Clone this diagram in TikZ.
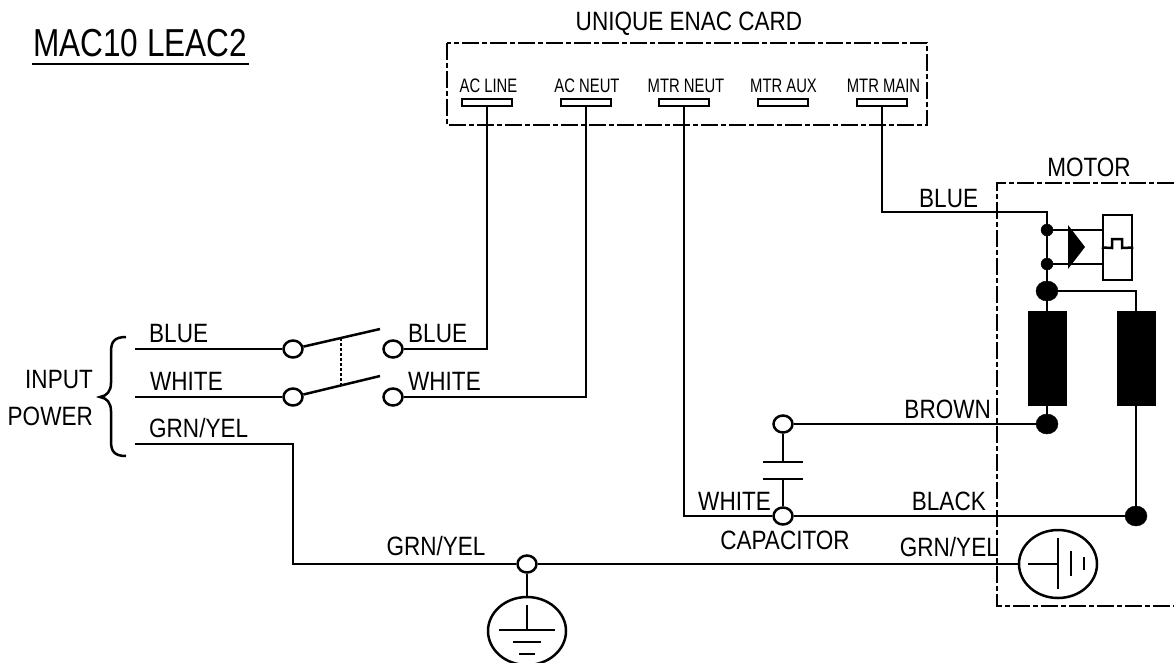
\documentclass[tikz,border=0pt]{standalone}
\usepackage{fontspec}
\usetikzlibrary{shapes.geometric}
\setmainfont[FakeStretch=0.85]{Liberation Sans}
\newfontfamily\pinfont[FakeStretch=0.76]{Liberation Sans}
\newfontfamily\titlefont[FakeStretch=0.81]{Liberation Sans}
\begin{document}
\begin{tikzpicture}[x=1pt,y=-1pt]

      \tikzset{wire/.style={line width=2.5pt},
      	term/.style={draw, line width=2.5pt, ellipse, inner sep=0pt, minimum width=19pt, minimum height=17pt, fill=white},
      	blob/.style={draw, ellipse, inner sep=0pt, fill=black},
      	dot/.style={blob, minimum width=12pt, minimum height=12pt},
      	bigdot/.style={blob, minimum width=22pt, minimum height=20pt},
      	tab/.style={draw, line width=2.5pt, inner sep=0pt, minimum width=50pt, minimum height=7pt},
      	coil/.style={draw, fill=black, inner sep=0pt, minimum width=38pt, minimum height=94pt},
      	gnd/.style={draw, line width=2.5pt, ellipse, inner sep=0pt, minimum width=78pt, minimum height=68pt},
      	card/.style={line width=2.5pt, dash pattern=on 17pt off 3pt on 5pt off 3pt},
      	lbl/.style={inner sep=0pt, font=\fontsize{26.5}{26.5}\selectfont},
      	pin/.style={inner sep=0pt, font=\pinfont\fontsize{19.5}{19.5}\selectfont}}
      \useasboundingbox (0,0) rectangle (1174,662);
%% Title and boxes
      	\node[anchor=base west, inner sep=0pt, font=\titlefont\fontsize{39}{39}\selectfont] (title) at (33,56) {MAC10 LEAC2};
      	\draw[wire] (32,64) -- (249,64);
      	\draw[card] (447,43) rectangle (927,125);
      	\draw[card] (1174,183) -- (997,183) -- (997,606) -- (1174,606);
      	\node[lbl, anchor=base] (cardname) at (689,30) {UNIQUE ENAC CARD};
      	\node[lbl, anchor=base] (motorname) at (1089,176) {MOTOR};
%% Card terminals
      	\node[tab] (acline) at (487,102.5) {};
      	\node[tab] (acneut) at (586,102.5) {};
      	\node[tab] (mtrneut) at (684,102.5) {};
      	\node[tab] (mtraux) at (783,102.5) {};
      	\node[tab] (mtrmain) at (882,102.5) {};
      	\node[pin, anchor=base] (tacline) at (488.5,92) {AC LINE};
      	\node[pin, anchor=base] (tacneut) at (587,92) {AC NEUT};
      	\node[pin, anchor=base] (tmtrneut) at (686,92) {MTR NEUT};
      	\node[pin, anchor=base] (tmtraux) at (783.5,92) {MTR AUX};
      	\node[pin, anchor=base] (tmtrmain) at (883.5,92) {MTR MAIN};
%% Input side
      	\coordinate (inblue) at (135,349);
      	\coordinate (inwhite) at (135,397);
      	\coordinate (ingrn) at (135,444);
      	\node[term] (sw1) at (293,349) {};
      	\node[term] (sw2) at (293,397) {};
      	\node[term] (sw3) at (393,349) {};
      	\node[term] (sw4) at (393,397) {};
      	\coordinate (blade1) at (380,329);
      	\coordinate (blade2) at (380,376);
      	\coordinate (link1) at (341,338);
      	\coordinate (link2) at (341,385);
      	\draw[wire] (126,337) .. controls (114,337) and (111,342) .. (111,352) -- (111,383) .. controls (111,391) and (107,396) .. (100,397) .. controls (107,398) and (111,403) .. (111,411) -- (111,441) .. controls (111,451) and (114,456) .. (126,456);
      	\node[lbl, anchor=base east] (inputa) at (93,388) {INPUT};
      	\node[lbl, anchor=base east] (inputb) at (93,425) {POWER};
      	\node[lbl, anchor=base west] (lblue) at (149,342) {BLUE};
      	\node[lbl, anchor=base west] (lwhite) at (150,390) {WHITE};
      	\node[lbl, anchor=base west] (lgrn) at (149,437) {GRN/YEL};
      	\node[lbl, anchor=base west] (lblue2) at (408,342) {BLUE};
      	\node[lbl, anchor=base west] (lwhite2) at (408,390) {WHITE};
%% Motor
      	\node[dot] (j1) at (1047,230) {};
      	\node[dot] (j2) at (1047,264) {};
      	\node[bigdot] (j3) at (1047,291) {};
      	\node[coil] (coil1) at (1047,358) {};
      	\node[coil] (coil2) at (1136,358) {};
      	\node[bigdot] (j4) at (1047,424) {};
      	\node[bigdot] (j5) at (1136,516) {};
      	\node[draw, line width=2.5pt, inner sep=0pt, minimum width=29pt, minimum height=65pt] (prot) at (1117.5,247.5) {};
      	\fill[black] (1068,225) -- (1085,247) -- (1068,269) -- cycle;
      	\draw[wire] (prot.west) -- (1112,248) -- (1112,239) -- (1122,239) -- (1122,248) -- (prot.east);
      	\coordinate (b1) at (882,212);
      	\coordinate (b2) at (1047,212);
      	\node[lbl, anchor=base west] (lblue3) at (919,207) {BLUE};
      	\node[lbl, anchor=base east] (lbrown) at (991,418) {BROWN};
      	\node[lbl, anchor=base east] (lblack) at (986,510) {BLACK};
      	\node[lbl, anchor=base east] (lgrn3) at (999,556) {GRN/YEL};
%% Capacitor
      	\node[term] (c1) at (783,424) {};
      	\node[term] (c2) at (783,516) {};
      	\coordinate (p1) at (783,462);
      	\coordinate (p2) at (783,479);
      	\draw[wire] (763,462) -- (803,462);
      	\draw[wire] (763,479) -- (803,479);
      	\node[lbl, anchor=base east] (lwhite3) at (771,510) {WHITE};
      	\node[lbl, anchor=base] (lcap) at (785,549) {CAPACITOR};
%% Grounds
      	\node[term] (g1) at (527,564) {};
      	\node[gnd] (g2) at (527,631) {};
      	\node[gnd] (g3) at (1058,564) {};
      	\coordinate (y1) at (293,444);
      	\coordinate (y2) at (293,564);
      	\node[lbl, anchor=base] (lgrn2) at (436,555) {GRN/YEL};
      	\draw[wire] (527,605) -- (527,630) (499,630) -- (555,630) (513,642) -- (541,642) (519,654) -- (535,654);
      	\draw[wire] (1028,564) -- (1058,564) (1058,538) -- (1058,589) (1071,551) -- (1071,576) (1084,557) -- (1084,570);
%Edges
		\path[wire] (inblue) edge (sw1);
		\path[wire] (inwhite) edge (sw2);
		\path[wire] (sw1) edge (blade1);
		\path[wire] (sw2) edge (blade2);
		\path[wire, densely dashed, line width=1.5pt] (link1) edge (link2);
		\draw[wire] (sw3) -- (sw3 -| acline) -- (acline);
		\draw[wire] (sw4) -- (sw4 -| acneut) -- (acneut);
		\draw[wire] (ingrn) -- (y1) -- (y2) -- (g1);
		\path[wire] (g1) edge (g3);
		\path[wire] (g1) edge (g2);
		\draw[wire] (mtrmain) -- (b1) -- (b2) -- (j1);
		\path[wire] (j1) edge (j2);
		\path[wire] (j2) edge (j3);
		\path[wire] (j3) edge (coil1);
		\draw[wire] (j3) -- (j3 -| coil2) -- (coil2);
		\path[wire] (j1) edge (j1 -| prot.west);
		\path[wire] (j2) edge (j2 -| prot.west);
		\path[wire] (coil1) edge (j4);
		\path[wire] (coil2) edge (j5);
		\path[wire] (j4) edge (c1);
		\path[wire] (c1) edge (p1);
		\path[wire] (p2) edge (c2);
		\path[wire] (c2) edge (j5);
		\draw[wire] (mtrneut) |- (c2);

	\end{tikzpicture}
\end{document}
